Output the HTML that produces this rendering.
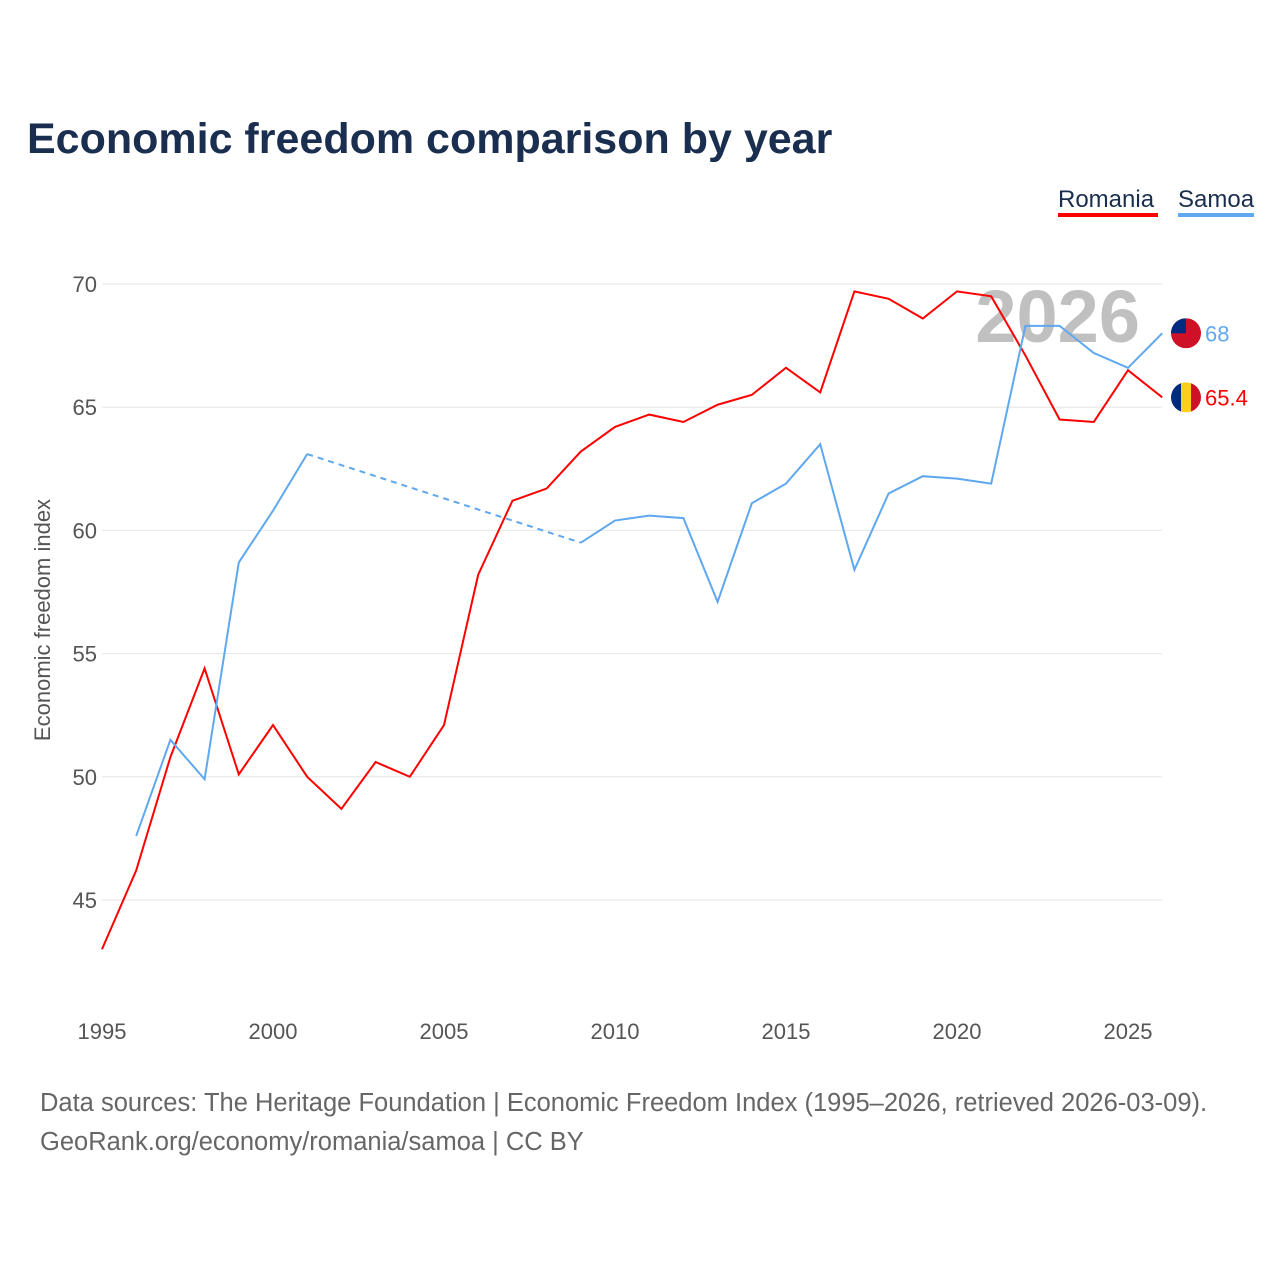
<!DOCTYPE html>
<html><head><meta charset="utf-8"><style>
body{margin:0;background:#fff;font-family:"Liberation Sans",sans-serif;}
svg text{font-family:"Liberation Sans",sans-serif;}
</style></head><body>
<svg id="c" width="1280" height="1280" xmlns="http://www.w3.org/2000/svg">
<defs>
<clipPath id="cro"><circle cx="1186" cy="396" r="15"/></clipPath>
<clipPath id="cws"><circle cx="1186" cy="333" r="15"/></clipPath>
</defs>
<text x="27" y="153" font-size="43" font-weight="bold" fill="#1a2e4f">Economic freedom comparison by year</text>
<g>
<text x="1058" y="207" font-size="24" fill="#1a2e4f">Romania</text>
<rect x="1058" y="213" width="100" height="4" fill="#ff0000"/>
<text x="1178" y="207" font-size="24" fill="#1a2e4f">Samoa</text>
<rect x="1178" y="213" width="76" height="4" fill="#5fa8f0"/>
</g>
<text x="1140" y="342" font-size="74" font-weight="bold" fill="#c0c0c0" text-anchor="end">2026</text>
<text transform="translate(50,620) rotate(-90)" font-size="22" fill="#555" text-anchor="middle">Economic freedom index</text>
<g id="grid"></g><g id="xt"></g><g id="lines"></g>
<text x="40" y="1111" font-size="25.5" fill="#666">Data sources: The Heritage Foundation | Economic Freedom Index (1995–2026, retrieved 2026-03-09).</text>
<text x="40" y="1150" font-size="25.5" fill="#666">GeoRank.org/economy/romania/samoa | CC BY</text>
</svg>
<script>
const years=[1995,1996,1997,1998,1999,2000,2001,2002,2003,2004,2005,2006,2007,2008,2009,2010,2011,2012,2013,2014,2015,2016,2017,2018,2019,2020,2021,2022,2023,2024,2025,2026];
const romania=[43.0,46.2,50.8,54.4,50.1,52.1,50.0,48.7,50.6,50.0,52.1,58.2,61.2,61.7,63.2,64.2,64.7,64.4,65.1,65.5,66.6,65.6,69.7,69.4,68.6,69.7,69.5,67.1,64.5,64.4,66.5,65.4];
const samoa=[null,47.6,51.5,49.9,58.7,60.8,63.1,null,null,null,null,null,null,null,59.5,60.4,60.6,60.5,57.1,61.1,61.9,63.5,58.4,61.5,62.2,62.1,61.9,68.3,68.3,67.2,66.6,68.0];
const yTicks=[45,50,55,60,65,70];
const xTicks=[1995,2000,2005,2010,2015,2020,2025];
const X=y=>102+(y-1995)*34.2, Y=v=>284+(70-v)*24.64;
const NS='http://www.w3.org/2000/svg';
function mk(tag,attrs,parent,txt){const e=document.createElementNS(NS,tag);for(const k in attrs)e.setAttribute(k,attrs[k]);if(txt!=null)e.textContent=txt;(typeof parent==='string'?document.getElementById(parent):parent).appendChild(e);return e;}
yTicks.forEach(t=>{
 const l=mk('line',{x1:102,x2:1162,y1:Y(t),y2:Y(t),stroke:'#e6e6e6','stroke-width':1},'grid');
 
 
 const tx=mk('text',{x:97,y:Y(t)+8,'font-size':22,fill:'#555','text-anchor':'end'},'grid',t);
 
 
});
xTicks.forEach(t=>{
 const tx=mk('text',{x:X(t),y:1039,'font-size':22,fill:'#555','text-anchor':'middle'},'xt',t);
 
 
});
function draw(vals,color,name){
 let segs=[],cur=[];
 vals.forEach((v,i)=>{if(v==null){if(cur.length)segs.push(cur);cur=[];}else cur.push([X(years[i]),Y(v)]);});
 if(cur.length)segs.push(cur);
 segs.forEach(s=>{
  const p=mk('path',{d:'M'+s.map(q=>q.join(',')).join('L'),fill:'none',stroke:color,'stroke-width':2},'lines');
  
  
 });
 for(let i=0;i<segs.length-1;i++){
  const a=segs[i][segs[i].length-1],b=segs[i+1][0];
  const d=mk('line',{x1:a[0],y1:a[1],x2:b[0],y2:b[1],stroke:color,'stroke-width':2,'stroke-dasharray':'6,5'},'lines');
  
  
 }
}
draw(romania,'#ff0000','romania');
draw(samoa,'#5fa8f0','samoa');
function endLabel(v,color,name,flag){
 const y=Y(v);
 const g=mk('g',{},'lines');
 
 
 if(flag==='ro'){
  document.querySelector('#cro circle').setAttribute('cy',y);
  g.setAttribute('clip-path','url(#cro)');
  mk('rect',{x:1171,y:y-15,width:10,height:30,fill:'#002b7f'},g);
  mk('rect',{x:1181,y:y-15,width:10,height:30,fill:'#fcd116'},g);
  mk('rect',{x:1191,y:y-15,width:10,height:30,fill:'#ce1126'},g);
 } else {
  document.querySelector('#cws circle').setAttribute('cy',y);
  g.setAttribute('clip-path','url(#cws)');
  mk('rect',{x:1171,y:y-15,width:30,height:30,fill:'#ce1126'},g);
  mk('rect',{x:1171,y:y-15,width:15,height:15,fill:'#002b7f'},g);
 }
 const t=mk('text',{x:1205,y:y+8,'font-size':22,fill:color},'lines',v);
 
 
}
endLabel(samoa[samoa.length-1],'#5fa8f0','samoa','ws');
endLabel(romania[romania.length-1],'#ff0000','romania','ro');
</script>
</body></html>
